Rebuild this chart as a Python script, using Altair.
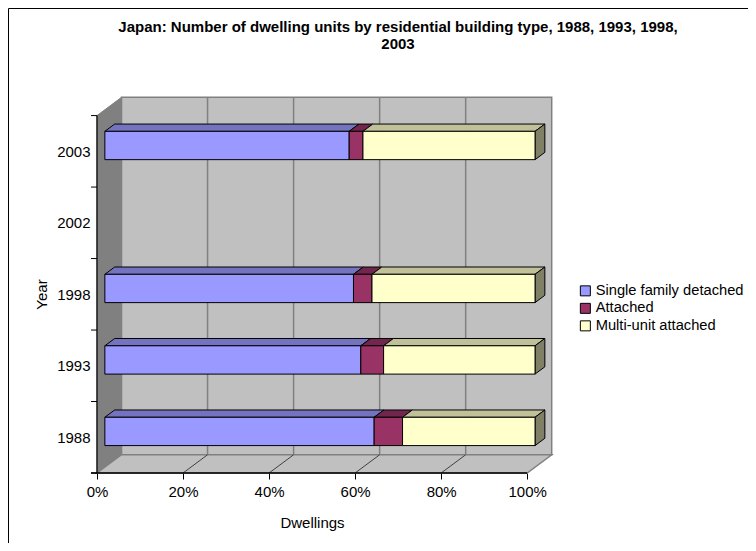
import json
import altair as alt
import pandas as pd

# ---------------- data ----------------
title_lines = ["Japan: Number of dwelling units by residential building type, 1988, 1993, 1998,", "2003"]
categories = ["1988", "1993", "1998", "2002", "2003"]      # category axis, bottom to top
bar_years = ["1988", "1993", "1998", "2003"]
types = ["Single family detached", "Attached", "Multi-unit attached"]
single_family = [62.6, 59.5, 57.8, 56.8]
attached = [6.6, 5.3, 4.3, 3.2]
multi_unit = [30.8, 35.2, 37.9, 40.0]
x_ticks = [0, 20, 40, 60, 80, 100]
x_title = "Dwellings"
y_title = "Year"

# ---------------- style ----------------
FONT = "Liberation Sans"
front_colors = ["#9999FF", "#993366", "#FFFFCC"]
top_colors = ["#7373C0", "#73264D", "#C0C099"]
side_colors = ["#5C5C99", "#5C1F3D", "#808066"]
WALL = "#C0C0C0"
SIDEWALL = "#808080"
GRID = "#808080"

W, H = 456, 376
XMAX, YMAX = 106.0, 5.26
DX, DY = 5.7, 0.255            # depth of the 3-D box in data units
BF, BB = 0.32, 0.72           # bar front / back depth fraction
HALF = 0.198                  # half bar height in category units

xs = alt.Scale(domain=[0, XMAX], nice=False, zero=False)
ys = alt.Scale(domain=[0, YMAX], nice=False, zero=False)


def X(f, **kw):
    return alt.X(f, type="quantitative", scale=xs, **kw)


def Y(f, **kw):
    return alt.Y(f, type="quantitative", scale=ys, **kw)


# ---------------- tables ----------------
front_rows, top_rows, side_rows = [], [], []
series = [single_family, attached, multi_unit]
for i, yr in enumerate(bar_years):
    yc = categories.index(yr) + 0.5
    vals = [s[i] for s in series]
    tot = sum(vals)
    cum = 0.0
    for j, t in enumerate(types):
        share = vals[j] / tot * 100
        x0, x1 = cum, cum + share
        cum = x1
        front_rows.append(dict(type=t, x=x0 + BF * DX, x2=x1 + BF * DX,
                               y=yc + BF * DY - HALF, y2=yc + BF * DY + HALF))
        sid = f"{yr}-{j}"
        top_rows.append(dict(seg=sid, c=top_colors[j], y=yc + BF * DY + HALF,
                             x=x0 + BF * DX, x2=x1 + BF * DX))
        top_rows.append(dict(seg=sid, c=top_colors[j], y=yc + BB * DY + HALF,
                             x=x0 + BB * DX, x2=x1 + BB * DX))
    side_rows.append(dict(seg=yr, c=side_colors[2], x=100 + BF * DX,
                          y=yc + BF * DY - HALF, y2=yc + BF * DY + HALF))
    side_rows.append(dict(seg=yr, c=side_colors[2], x=100 + BB * DX,
                          y=yc + BB * DY - HALF, y2=yc + BB * DY + HALF))

front_df = pd.DataFrame(front_rows)
top_df = pd.DataFrame(top_rows)
side_df = pd.DataFrame(side_rows)

ncat = len(categories)
back_df = pd.DataFrame([dict(x=DX, x2=100 + DX, y=DY, y2=ncat + DY)])
floor_df = pd.DataFrame([dict(y=0.0, x=0.0, x2=100.0), dict(y=DY, x=DX, x2=100 + DX)])
left_df = pd.DataFrame([dict(x=0.0, y=0.0, y2=float(ncat)), dict(x=DX, y=DY, y2=ncat + DY)])
bgrid_df = pd.DataFrame([dict(x=t + DX, y=DY, y2=ncat + DY) for t in x_ticks[1:-1]])
fgrid_df = pd.DataFrame([dict(x=t, x2=t + DX, y=0.0, y2=DY) for t in x_ticks[1:-1]])
ytick_df = pd.DataFrame([dict(y=float(k), x=-1.4, x2=0.0) for k in range(ncat + 1)])
axis_df = pd.DataFrame([dict(x=-1.4, x2=100.0, y=0.0)])
yline_df = pd.DataFrame([dict(x=0.0, y=0.0, y2=float(ncat))])

# ---------------- layers ----------------
label_expr = json.dumps(categories) + "[floor(datum.value)]"

border = alt.Chart(back_df).mark_rect(filled=False, stroke="black", strokeWidth=1).encode(
    x=alt.value(-88.5), x2=alt.value(W + 400), y=alt.value(-88.5), y2=alt.value(H + 400))

back = alt.Chart(back_df).mark_rect(fill=WALL, stroke=GRID, strokeWidth=1.5).encode(
    x=X("x", axis=alt.Axis(values=x_ticks, labelExpr="datum.value + '%'", title=x_title,
                           grid=False, domain=False, ticks=True, tickSize=6, tickColor="black",
                           tickWidth=1, labelPadding=5, labelFlush=False, labelFontSize=15,
                           labelFont=FONT, labelColor="black", titleFontSize=15, titleFont=FONT,
                           titleFontWeight="normal", titleColor="black", titleX=215, titleY=42)),
    x2="x2",
    y=Y("y", axis=alt.Axis(values=[k + 0.5 for k in range(ncat)], labelExpr=label_expr,
                           title=y_title, grid=False, domain=False, ticks=False, tickSize=0,
                           labelPadding=7, labelFontSize=15, labelFont=FONT, labelColor="black",
                           titleFontSize=15, titleFont=FONT, titleFontWeight="normal",
                           titleColor="black", titleX=-48, titleY=197)),
    y2="y2")

left = alt.Chart(left_df).mark_area(orient="vertical", fill=SIDEWALL, stroke=GRID,
                                    strokeWidth=1).encode(x=X("x"), y=Y("y"), y2="y2")
floor = alt.Chart(floor_df).mark_area(orient="horizontal", fill=WALL, stroke=GRID,
                                      strokeWidth=1.5).encode(y=Y("y"), x=X("x"), x2="x2")
bgrid = alt.Chart(bgrid_df).mark_rule(color=GRID, strokeWidth=1.5).encode(
    x=X("x"), y=Y("y"), y2="y2")
fgrid = alt.Chart(fgrid_df).mark_rule(color="#404040", strokeWidth=1).encode(
    x=X("x"), x2="x2", y=Y("y"), y2="y2")

tops = alt.Chart(top_df).mark_area(orient="horizontal", stroke="black", strokeWidth=1).encode(
    y=Y("y"), x=X("x"), x2="x2", detail="seg:N", fill=alt.Fill("c:N", scale=None))
sides = alt.Chart(side_df).mark_area(orient="vertical", stroke="black", strokeWidth=1).encode(
    x=X("x"), y=Y("y"), y2="y2", detail="seg:N", fill=alt.Fill("c:N", scale=None))
fronts = alt.Chart(front_df).mark_rect(stroke="black", strokeWidth=1).encode(
    x=X("x"), x2="x2", y=Y("y"), y2="y2",
    color=alt.Color("type:N", sort=types,
                    scale=alt.Scale(domain=types, range=front_colors),
                    legend=alt.Legend(orient="none", legendX=481, legendY=186.5, title=None,
                                      symbolType="square", symbolSize=100,
                                      symbolStrokeColor="black", symbolStrokeWidth=1,
                                      labelFontSize=14.7, labelFont=FONT, labelColor="black",
                                      rowPadding=1.5, labelOffset=3, padding=0)))

xaxis_line = alt.Chart(axis_df).mark_rule(color="black", strokeWidth=1.3).encode(
    x=X("x"), x2="x2", y=Y("y"))
yline = alt.Chart(yline_df).mark_rule(color="black", strokeWidth=1.2).encode(
    x=X("x"), y=Y("y"), y2="y2")
yticks = alt.Chart(ytick_df).mark_rule(color="black", strokeWidth=1).encode(
    x=X("x"), x2="x2", y=Y("y"))

chart = alt.layer(border, back, left, floor, bgrid, fgrid, tops, sides, fronts,
                  xaxis_line, yline, yticks).properties(
    width=W, height=H,
    title=alt.TitleParams(text=title_lines, fontSize=15, fontWeight="bold", font=FONT,
                          color="black", anchor="middle", dx=73, offset=-44, lineHeight=17),
    autosize=alt.AutoSizeParams(type="none"),
    padding={"left": 89, "top": 89, "right": 740 - 89 - W, "bottom": 535 - 89 - H},
    background="white",
).configure_view(stroke=None)

chart.save("out.html", embed_options={"renderer": "svg", "actions": False})
